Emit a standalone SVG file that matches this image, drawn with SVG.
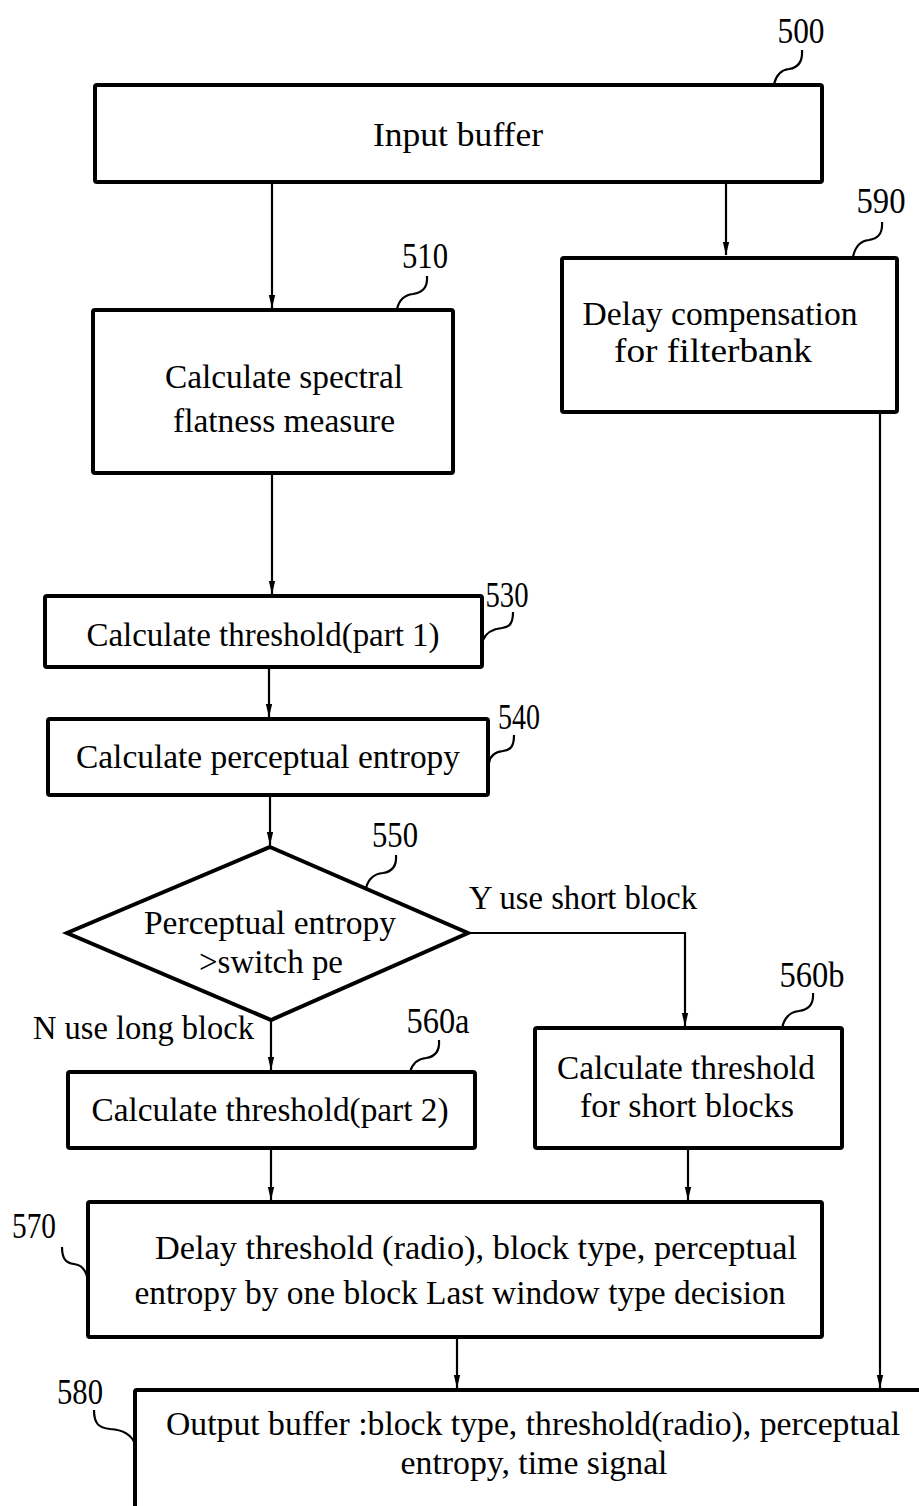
<svg xmlns="http://www.w3.org/2000/svg" width="919" height="1506" viewBox="0 0 919 1506">
  <style>
    .box { fill: #fff; stroke: #000; stroke-width: 4; }
    .dia { fill: #fff; stroke: #000; stroke-width: 4; stroke-linejoin: miter; }
    .wire { fill: none; stroke: #000; stroke-width: 2.2; }
    .lead { fill: none; stroke: #000; stroke-width: 2.2; }
    text { font-family: "Liberation Serif", "Times New Roman", serif; font-size: 33px; fill: #000; }
    .c { text-anchor: middle; }
    .num { font-size: 35px; }
  </style>
  <defs>
    <marker id="ah" markerUnits="userSpaceOnUse" markerWidth="14" markerHeight="8" refX="13" refY="4" orient="auto">
      <path d="M0,0.8 L13,4 L0,7.2 z" fill="#000"/>
    </marker>
  </defs>
  <rect width="919" height="1506" fill="#fff"/>

  <!-- connectors -->
  <g id="connectors">
    <line class="wire" x1="272" y1="182" x2="272" y2="308" marker-end="url(#ah)"/>
    <line class="wire" x1="726" y1="182" x2="726" y2="255" marker-end="url(#ah)"/>
    <line class="wire" x1="272" y1="474" x2="272" y2="594" marker-end="url(#ah)"/>
    <line class="wire" x1="269" y1="667" x2="269" y2="717" marker-end="url(#ah)"/>
    <line class="wire" x1="270" y1="795" x2="270" y2="845" marker-end="url(#ah)"/>
    <polyline class="wire" points="468,933 685,933 685,1026" marker-end="url(#ah)"/>
    <line class="wire" x1="271" y1="1020" x2="271" y2="1070" marker-end="url(#ah)"/>
    <line class="wire" x1="271" y1="1148" x2="271" y2="1200" marker-end="url(#ah)"/>
    <line class="wire" x1="688" y1="1148" x2="688" y2="1200" marker-end="url(#ah)"/>
    <line class="wire" x1="457" y1="1337" x2="457" y2="1388" marker-end="url(#ah)"/>
    <line class="wire" x1="880" y1="412" x2="880" y2="1388" marker-end="url(#ah)"/>
  </g>

  <!-- 500 input buffer -->
  <g id="n500">
    <rect class="box" x="95" y="85" width="727" height="97" rx="2"/>
    <text class="c" x="458" y="146" textLength="170" lengthAdjust="spacingAndGlyphs">Input buffer</text>
    <text class="c num" x="801" y="43" textLength="47" lengthAdjust="spacingAndGlyphs">500</text>
    <path class="lead" d="M802,50 C803,64 796,68 789,69 C780,70 776,76 774,84"/>
  </g>

  <!-- 510 spectral flatness -->
  <g id="n510">
    <rect class="box" x="93" y="310" width="360" height="163" rx="2"/>
    <text class="c" x="284" y="388" textLength="238" lengthAdjust="spacingAndGlyphs">Calculate spectral</text>
    <text class="c" x="284" y="432" textLength="222" lengthAdjust="spacingAndGlyphs">flatness measure</text>
    <text class="c num" x="425" y="268" textLength="46" lengthAdjust="spacingAndGlyphs">510</text>
    <path class="lead" d="M427,276 C428,290 420,293 413,294 C404,295 399,300 397,309"/>
  </g>

  <!-- 590 delay compensation -->
  <g id="n590">
    <rect class="box" x="562" y="258" width="335" height="154" rx="2"/>
    <text class="c" x="720" y="325" textLength="275" lengthAdjust="spacingAndGlyphs">Delay compensation</text>
    <text class="c" x="713" y="362" textLength="198" lengthAdjust="spacingAndGlyphs">for filterbank</text>
    <text class="c num" x="881" y="213" textLength="49" lengthAdjust="spacingAndGlyphs">590</text>
    <path class="lead" d="M882,222 C883,236 876,239 869,240 C860,241 855,247 853,257"/>
  </g>

  <!-- 530 threshold part 1 -->
  <g id="n530">
    <rect class="box" x="45" y="596" width="437" height="71" rx="2"/>
    <text class="c" x="263" y="646" textLength="353" lengthAdjust="spacingAndGlyphs">Calculate threshold(part 1)</text>
    <text class="c num" x="507" y="607" textLength="43" lengthAdjust="spacingAndGlyphs">530</text>
    <path class="lead" d="M513,612 C513,623 510,627 502,628 C492,629 486,633 483,640"/>
  </g>

  <!-- 540 perceptual entropy -->
  <g id="n540">
    <rect class="box" x="48" y="719" width="440" height="76" rx="2"/>
    <text class="c" x="268" y="768" textLength="384" lengthAdjust="spacingAndGlyphs">Calculate perceptual entropy</text>
    <text class="c num" x="519" y="729" textLength="42" lengthAdjust="spacingAndGlyphs">540</text>
    <path class="lead" d="M514,735 C514,746 511,750 503,751 C494,752 490,756 489,763"/>
  </g>

  <!-- 550 decision -->
  <g id="n550">
    <polygon class="dia" points="270,847 468,933 271,1020 67,933"/>
    <text class="c" x="270" y="934" textLength="252" lengthAdjust="spacingAndGlyphs">Perceptual entropy</text>
    <text class="c" x="271" y="973" textLength="144" lengthAdjust="spacingAndGlyphs">&gt;switch pe</text>
    <text class="c num" x="395" y="847" textLength="46" lengthAdjust="spacingAndGlyphs">550</text>
    <path class="lead" d="M396,855 C397,868 390,872 383,873 C373,874 368,880 366,888"/>
    <text x="469" y="909" textLength="228" lengthAdjust="spacingAndGlyphs">Y use short block</text>
    <text x="33" y="1039" textLength="221" lengthAdjust="spacingAndGlyphs">N use long block</text>
  </g>

  <!-- 560a threshold part 2 -->
  <g id="n560a">
    <rect class="box" x="68" y="1072" width="407" height="76" rx="2"/>
    <text class="c" x="270" y="1121" textLength="357" lengthAdjust="spacingAndGlyphs">Calculate threshold(part 2)</text>
    <text class="c num" x="438" y="1033" textLength="63" lengthAdjust="spacingAndGlyphs">560a</text>
    <path class="lead" d="M439,1040 C440,1053 433,1057 426,1058 C416,1059 412,1065 410,1072"/>
  </g>

  <!-- 560b threshold short blocks -->
  <g id="n560b">
    <rect class="box" x="535" y="1028" width="307" height="120" rx="2"/>
    <text class="c" x="686" y="1079" textLength="258" lengthAdjust="spacingAndGlyphs">Calculate threshold</text>
    <text class="c" x="687" y="1117" textLength="214" lengthAdjust="spacingAndGlyphs">for short blocks</text>
    <text class="c num" x="812" y="987" textLength="65" lengthAdjust="spacingAndGlyphs">560b</text>
    <path class="lead" d="M813,993 C814,1007 806,1010 799,1011 C789,1012 784,1019 782,1028"/>
  </g>

  <!-- 570 delay / last window decision -->
  <g id="n570">
    <rect class="box" x="88" y="1202" width="734" height="135" rx="2"/>
    <text class="c" x="476" y="1259" textLength="642" lengthAdjust="spacingAndGlyphs">Delay threshold (radio), block type, perceptual</text>
    <text class="c" x="460" y="1304" textLength="651" lengthAdjust="spacingAndGlyphs">entropy by one block Last window type decision</text>
    <text class="c num" x="34" y="1238" textLength="44" lengthAdjust="spacingAndGlyphs">570</text>
    <path class="lead" d="M62,1247 C62,1259 66,1263 74,1264 C83,1265 87,1272 88,1282"/>
  </g>

  <!-- 580 output buffer -->
  <g id="n580">
    <rect class="box" x="135" y="1390" width="800" height="140" rx="2"/>
    <text class="c" x="533" y="1435" textLength="734" lengthAdjust="spacingAndGlyphs">Output buffer :block type, threshold(radio), perceptual</text>
    <text class="c" x="534" y="1474" textLength="267" lengthAdjust="spacingAndGlyphs">entropy, time signal</text>
    <text class="c num" x="80" y="1404" textLength="46" lengthAdjust="spacingAndGlyphs">580</text>
    <path class="lead" d="M94,1410 C94,1424 99,1428 110,1429 C125,1430 132,1436 135,1444"/>
  </g>
</svg>
